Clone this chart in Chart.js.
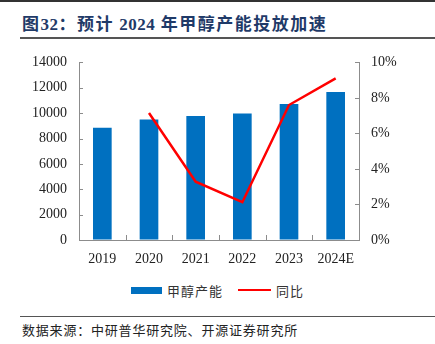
<!DOCTYPE html>
<html>
<head>
<meta charset="utf-8">
<script src="https://cdn.jsdelivr.net/npm/chart.js@4"></script>
<style>
  html, body { margin: 0; padding: 0; background: #fff; }
  #wrap { position: relative; width: 435px; height: 344px; overflow: hidden; font-family: "Noto Sans CJK SC", sans-serif; }
  #topline { position: absolute; left: 0; top: 0; width: 435px; height: 2px; background: #333; }
  #title { position: absolute; left: 22px; top: 10px; font-size: 17px; font-weight: bold; color: #1f3a68; letter-spacing: 1.5px; white-space: nowrap; }
  #title .num { font-family: "Liberation Serif", serif; letter-spacing: 0.5px; }
  #rule1 { position: absolute; left: 20px; top: 37px; width: 415px; height: 1.5px; background: #555; }
  #chartBox { position: absolute; left: 0; top: 42px; width: 435px; height: 228px; }
  #legend { position: absolute; top: 280px; left: 0; width: 435px; height: 20px; font-size: 13px; color: #333; }
  #legend .item { position: absolute; top: 0; display: flex; align-items: center; height: 20px; letter-spacing: 1px; }
  #legend .sw { display: inline-block; margin-right: 5px; }
  #rule2 { position: absolute; left: 20px; top: 316px; width: 415px; height: 1px; background: #555; }
  #source { position: absolute; left: 22px; top: 320px; font-size: 13px; color: #222; letter-spacing: 0.8px; white-space: nowrap; }
</style>
</head>
<body>
<div id="wrap">
  <div id="topline"></div>
  <div id="title">图<span class="num">32</span>：预计 <span class="num">2024</span> 年甲醇产能投放加速</div>
  <div id="rule1"></div>
  <div id="chartBox"><canvas id="grafico"></canvas></div>
  <div id="legend"></div>
  <div id="rule2"></div>
  <div id="source">数据来源：中研普华研究院、开源证券研究所</div>
</div>
<script>
// anos e séries
const anos = ["2019", "2020", "2021", "2022", "2023", "2024E"];
const capacidade = [8840, 9490, 9780, 9980, 10730, 11670];   // 甲醇产能
const yoy = [null, 7.15, 3.28, 2.13, 7.6, 9.1];            // 同比 (%)
const ticksEsq = [0, 2000, 4000, 6000, 8000, 10000, 12000, 14000];
const ticksDir = [0, 2, 4, 6, 8, 10];

const AZUL = "#0070c0";
const VERMELHO = "#ff0000";
const EIXO = "#8c8c8c";
const fonteEixo = { family: "'Liberation Serif', 'Times New Roman', serif", size: 14 };

// ticks curtos para dentro do gráfico
const ticksInternos = {
  id: "ticksInternos",
  afterDraw(chart) {
    const { ctx, chartArea: a, scales } = chart;
    ctx.save();
    ctx.strokeStyle = EIXO;
    ctx.lineWidth = 1;
    ctx.beginPath();
    scales.y.ticks.forEach(t => {
      const py = Math.round(scales.y.getPixelForValue(t.value)) + 0.5;
      ctx.moveTo(a.left, py); ctx.lineTo(a.left + 4, py);
    });
    scales.y1.ticks.forEach(t => {
      const py = Math.round(scales.y1.getPixelForValue(t.value)) + 0.5;
      ctx.moveTo(a.right - 4, py); ctx.lineTo(a.right, py);
    });
    for (let i = 1; i < anos.length; i++) {
      const px = Math.round((scales.x.getPixelForValue(i - 1) + scales.x.getPixelForValue(i)) / 2) + 0.5;
      ctx.moveTo(px, a.bottom); ctx.lineTo(px, a.bottom - 5);
    }
    ctx.stroke();
    ctx.restore();
  }
};

new Chart(document.getElementById("grafico").getContext("2d"), {
  type: "bar",
  data: {
    labels: anos,
    datasets: [
      { type: "line", label: "同比", data: yoy, yAxisID: "y1", borderColor: VERMELHO, borderWidth: 2.5,
        pointRadius: 0, tension: 0, fill: false, order: 0 },
      { type: "bar", label: "甲醇产能", data: capacidade, yAxisID: "y", backgroundColor: AZUL,
        barPercentage: 0.4, categoryPercentage: 1, order: 1 }
    ]
  },
  options: {
    responsive: true,
    maintainAspectRatio: false,
    animation: false,
    layout: { padding: { top: 9, bottom: 0, left: 0, right: 0 } },
    plugins: { legend: { display: false }, tooltip: { enabled: false } },
    scales: {
      x: {
        offset: true,
        grid: { display: true, drawOnChartArea: false, drawTicks: false },
        border: { display: true, color: EIXO, width: 1 },
        ticks: { color: "#222", font: fonteEixo, padding: 11, maxRotation: 0 },
        afterFit: s => { s.height = 30; }
      },
      y: {
        position: "left",
        min: 0, max: 14000,
        afterBuildTicks: s => { s.ticks = ticksEsq.map(v => ({ value: v })); },
        grid: { display: true, drawOnChartArea: false, drawTicks: false },
        border: { display: true, color: EIXO, width: 1 },
        ticks: { color: "#222", font: fonteEixo, padding: 12, callback: v => String(v) },
        afterFit: s => { s.width = 79; }
      },
      y1: {
        position: "right",
        min: 0, max: 10,
        afterBuildTicks: s => { s.ticks = ticksDir.map(v => ({ value: v })); },
        grid: { display: true, drawOnChartArea: false, drawTicks: false },
        border: { display: true, color: EIXO, width: 1 },
        ticks: { color: "#222", font: fonteEixo, padding: 12, callback: v => v + "%" },
        afterFit: s => { s.width = 76; }
      }
    }
  },
  plugins: [ticksInternos]
});

// legenda em HTML
const legenda = document.getElementById("legend");
legenda.innerHTML =
  `<div class="item" style="left:131px"><span class="sw" style="width:31px;height:7px;background:${AZUL}"></span>甲醇产能</div>` +
  `<div class="item" style="left:238px"><span class="sw" style="width:33px;height:2.5px;background:${VERMELHO}"></span>同比</div>`;
</script>
</body>
</html>
